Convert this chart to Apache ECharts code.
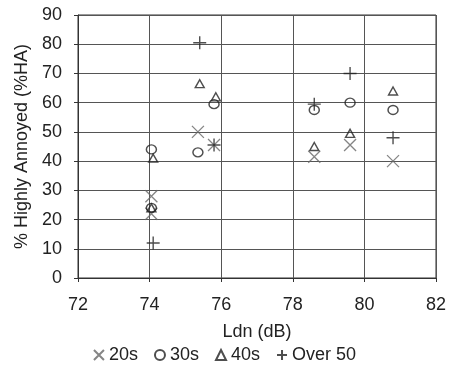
<!DOCTYPE html>
<html><head><meta charset="utf-8">
<script src="https://cdn.jsdelivr.net/npm/echarts@6/dist/echarts.min.js"></script>
<style>html,body{margin:0;padding:0;background:#fff}#c{width:449px;height:380px}</style>
</head><body><div id="c"></div>
<script>
var seriesNames = ['20s', '30s', '40s', 'Over 50'];
var xTicks = [72, 74, 76, 78, 80, 82];
var yTicks = [0, 10, 20, 30, 40, 50, 60, 70, 80, 90];
var data20s = [[74.05, 28], [74.05, 22], [75.35, 50], [75.8, 45.5], [78.6, 41.5], [79.6, 45.5], [80.8, 40]];
var data30s = [[74.05, 44], [74.05, 24], [75.35, 43], [75.8, 59.5], [78.6, 57.5], [79.6, 60], [80.8, 57.5]];
var data40s = [[74.1, 41], [74.05, 24], [75.4, 66.5], [75.85, 62], [78.6, 45], [79.6, 49.5], [80.8, 64]];
var dataOver50 = [[74.1, 12], [75.4, 80.5], [75.8, 45.5], [78.6, 59.5], [79.6, 70], [80.8, 48]];

var crossPath = 'path://M0,0L10,10M10,0L0,10';
var plusPath = 'path://M5,0L5,10M0,5L10,5';
var font = 'Liberation Sans, Arial, sans-serif';
var fs = 18;

var chart = echarts.init(document.getElementById('c'));
chart.setOption({
  animation: false,
  textStyle: {fontFamily: font},
  grid: {left: 78, right: 8, top: 15, bottom: 102, show: true, borderColor: '#333', borderWidth: 1, backgroundColor: 'transparent'},
  legend: {
    top: 341, left: 'center', itemGap: 16, itemWidth: 10, itemHeight: 10,
    textStyle: {fontSize: fs, color: '#222', fontFamily: font},
    data: [
      {name: seriesNames[0], icon: crossPath},
      {name: seriesNames[1], icon: 'circle'},
      {name: seriesNames[2], icon: 'triangle'},
      {name: seriesNames[3], icon: plusPath}
    ]
  },
  xAxis: {
    type: 'value', min: xTicks[0], max: xTicks[xTicks.length - 1], interval: 2,
    name: 'Ldn (dB)', nameLocation: 'middle', nameGap: 45,
    nameTextStyle: {fontSize: fs, color: '#222', fontFamily: font},
    axisLine: {lineStyle: {color: '#333'}},
    axisTick: {show: true, length: 4, lineStyle: {color: '#333'}},
    axisLabel: {fontSize: fs, color: '#222', margin: 18, fontFamily: font},
    splitLine: {show: true, lineStyle: {color: '#555', width: 1}}
  },
  yAxis: {
    type: 'value', min: yTicks[0], max: yTicks[yTicks.length - 1], interval: 10,
    name: '% Highly Annoyed (%HA)', nameLocation: 'middle', nameGap: 44,
    nameTextStyle: {fontSize: fs, color: '#222', fontFamily: font},
    axisLine: {show: true, lineStyle: {color: '#333'}},
    axisTick: {show: true, length: 4, lineStyle: {color: '#333'}},
    axisLabel: {fontSize: fs, color: '#222', margin: 16, fontFamily: font},
    splitLine: {show: true, lineStyle: {color: '#555', width: 1}}
  },
  series: [
    {name: seriesNames[0], type: 'scatter', data: data20s, symbol: crossPath, symbolSize: 12,
     itemStyle: {color: 'transparent', borderColor: '#666', borderWidth: 1.3}},
    {name: seriesNames[1], type: 'scatter', data: data30s, symbol: 'circle', symbolSize: [10, 9],
     itemStyle: {color: 'transparent', borderColor: '#222', borderWidth: 1.4}},
    {name: seriesNames[2], type: 'scatter', data: data40s, symbol: 'triangle', symbolSize: [9, 8],
     itemStyle: {color: 'transparent', borderColor: '#222', borderWidth: 1.4}},
    {name: seriesNames[3], type: 'scatter', data: dataOver50, symbol: plusPath, symbolSize: 13,
     itemStyle: {color: 'transparent', borderColor: '#222', borderWidth: 1.4}}
  ]
});
</script></body></html>
